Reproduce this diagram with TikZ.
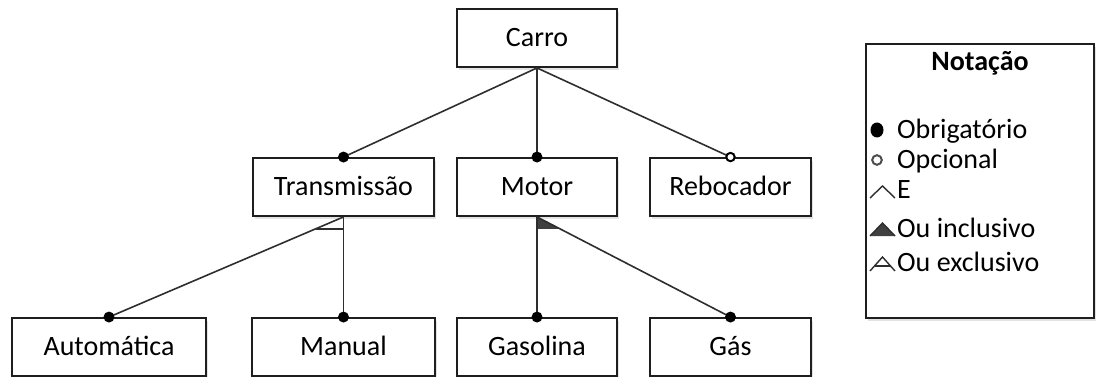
\documentclass[tikz,border=0pt]{standalone}
\usepackage{fontspec}
\setmainfont{Carlito}
\usetikzlibrary{calc,shadows}
\definecolor{boxline}{HTML}{1E1E1E}
\definecolor{linkgray}{HTML}{2E2E2E}
\definecolor{orfill}{HTML}{404040}
\begin{document}
\begin{tikzpicture}[x=1pt,y=-1pt,
  feature/.style={draw=boxline, line width=1.9pt, fill=white,
    minimum height=58pt, text height=17pt, text depth=0pt, inner sep=0pt,
    font=\fontsize{28}{32}\selectfont,
    drop shadow={shadow xshift=2pt, shadow yshift=-3pt, opacity=0.22}},
  legendbox/.style={draw=boxline, line width=1.9pt, fill=white,
    minimum width=228pt, minimum height=274pt, inner sep=0pt,
    drop shadow={shadow xshift=2pt, shadow yshift=-3pt, opacity=0.22}},
  legendtext/.style={anchor=base west, inner sep=0pt,
    font=\fontsize{28}{32}\selectfont},
  link/.style={draw=linkgray, line width=1.6pt},
  mandatory/.style={fill=black},
  optional/.style={draw=black, line width=2pt, fill=white},
]
\useasboundingbox (0,0) rectangle (1096,377);

% feature boxes
\node[feature, minimum width=160pt] (carro) at (537,38) {Carro};
\node[feature, minimum width=181pt] (trans) at (343.5,187) {Transmissão};
\node[feature, minimum width=160pt] (motor) at (537,187) {Motor};
\node[feature, minimum width=161pt] (reboc) at (730.5,187) {Rebocador};
\node[feature, minimum width=194pt] (auto) at (109,347) {Automática};
\node[feature, minimum width=183pt] (manual) at (343.5,347) {Manual};
\node[feature, minimum width=160pt] (gasol) at (537,347) {Gasolina};
\node[feature, minimum width=161pt] (gas) at (730.5,347) {Gás};

% links from the root
\draw[link] (carro.south) -- (trans.north);
\draw[link] (carro.south) -- (motor.north);
\draw[link] (carro.south) -- (reboc.north);

% transmission alternatives (exclusive or)
\draw[link] (trans.south) -- (auto.north);
\draw[link] (trans.south) -- (manual.north);
\draw[link] ($(trans.south)!0.118!(auto.north)$) -- ($(trans.south)!0.118!(manual.north)$);

% engine alternatives (inclusive or)
\fill[orfill] (motor.south) -- ($(motor.south)!0.118!(gas.north)$)
  -- ($(motor.south)!0.118!(gasol.north)$) -- cycle;
\draw[link] (motor.south) -- (gasol.north);
\draw[link] (motor.south) -- (gas.north);

% end markers
\fill[mandatory] (trans.north) circle (5.5pt);
\fill[mandatory] (motor.north) circle (5.5pt);
\draw[optional] (reboc.north) circle (4.2pt);
\fill[mandatory] (auto.north) circle (5.5pt);
\fill[mandatory] (manual.north) circle (5.5pt);
\fill[mandatory] (gasol.north) circle (5.5pt);
\fill[mandatory] (gas.north) circle (5.5pt);

% notation legend
\node[legendbox] (legend) at (980,181) {};
\node[anchor=base, inner sep=0pt, font=\fontsize{28}{32}\selectfont\bfseries]
  (legtitle) at (980,71) {Notação};

\fill[black] (877,130) ellipse [x radius=6.5pt, y radius=7.5pt];
\node[legendtext] (lmand) at (897,139) {Obrigatório};

\draw[black!70, line width=2pt] (877,160) circle (4.8pt);
\node[legendtext] (lopt) at (897,169) {Opcional};

\draw[linkgray, line width=1.4pt] (870,198) -- (882.5,186) -- (895,198);
\node[legendtext] (land) at (897,199) {E};

\draw[linkgray, line width=1.4pt, fill=orfill] (870,236) -- (882.5,223) -- (895,236);
\node[legendtext] (lor) at (897,237) {Ou inclusivo};

\draw[linkgray, line width=1.4pt] (870,271) -- (882.5,257) -- (895,271);
\draw[linkgray, line width=1.4pt] (874.5,266) -- (890.5,266);
\node[legendtext] (lxor) at (897,271) {Ou exclusivo};
\end{tikzpicture}
\end{document}
